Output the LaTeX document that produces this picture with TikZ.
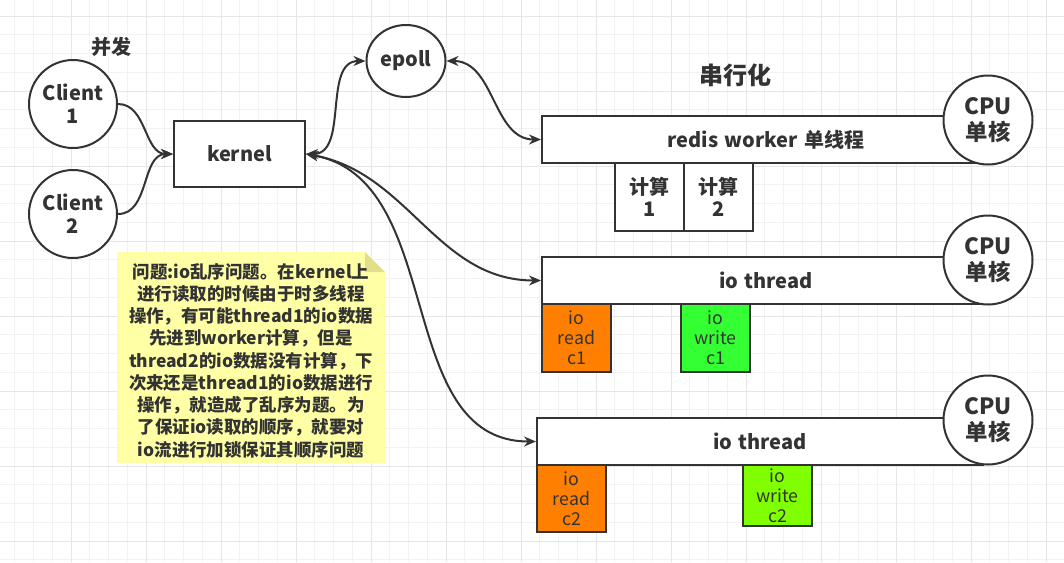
\documentclass[tikz,border=0pt]{standalone}
\usepackage{fontspec}
\setmainfont[WordSpace=1.4]{Noto Sans CJK SC}
\usetikzlibrary{shapes.geometric,arrows.meta}

\definecolor{linegray}{HTML}{333333}
\definecolor{gridminor}{HTML}{F2F2F2}
\definecolor{gridmajor}{HTML}{E6E6E6}
\definecolor{notefill}{HTML}{FFFFA6}
\definecolor{notefold}{HTML}{E0E08A}
\definecolor{readorange}{HTML}{FF8000}
\definecolor{writegreen}{HTML}{33FF33}
\definecolor{writelime}{HTML}{80FF00}

\tikzset{
  shapeline/.style={draw=linegray, line width=1.5pt, text=linegray},
  boldlabel/.style={font=\bfseries\fontsize{15}{17}\selectfont},
  client/.style={circle, shapeline, boldlabel, fill=white, minimum size=66pt, inner sep=0pt, align=center},
  procbox/.style={rectangle, shapeline, boldlabel, fill=white, inner sep=0pt, align=center},
  cpu/.style={circle, shapeline, fill=white, minimum size=66.75pt, inner sep=0pt, align=center,
    font=\bfseries\fontsize{16.8}{19.5}\selectfont},
  iobox/.style={rectangle, shapeline, minimum width=51.75pt, inner sep=0pt, align=center,
    font=\fontsize{13.3}{15}\selectfont},
  headline/.style={text=linegray, inner sep=0pt},
  link/.style={draw=linegray, line width=1.5pt, -{Stealth[length=9pt,width=7.5pt]}},
  bilink/.style={link, {Stealth[length=9pt,width=7.5pt]}-{Stealth[length=9pt,width=7.5pt]}}
}

\begin{document}
\begin{tikzpicture}[x=0.75pt,y=-0.75pt]
\useasboundingbox (0,0) rectangle (1064,562);
\fill[white] (0,0) rectangle (1064,562);
            % Grid
\foreach \gx in {0,...,56} \draw[gridminor, line width=0.75pt] ({14.75+18.75*\gx},0) -- ++(0,562);
\foreach \gy in {0,...,29} \draw[gridminor, line width=0.75pt] (0,{16+18.75*\gy}) -- ++(1064,0);
\foreach \gx in {0,...,13} \draw[gridmajor, line width=0.75pt] ({71+75*\gx},0) -- ++(0,562);
\foreach \gy in {0,...,7} \draw[gridmajor, line width=0.75pt] (0,{16+75*\gy}) -- ++(1064,0);
            % Note
\fill[notefill] (117,252) -- (365,252) -- (385,272) -- (385,463) -- (117,463) -- cycle;
\fill[notefold] (365,252) -- (365,272) -- (385,272) -- cycle;
\node[headline, align=center, font=\bfseries\fontsize{13.1}{16.7}\selectfont] (note) at (251,360.5)
  {问题:io乱序问题。在kernel上\\进行读取的时候由于时多线程\\操作，有可能thread1的io数据\\先进到worker计算，但是\\thread2的io数据没有计算，下\\次来还是thread1的io数据进行\\操作，就造成了乱序为题。为\\了保证io读取的顺序，就要对\\io流进行加锁保证其顺序问题};
            % Titles
\node[headline, boldlabel] (bingfa) at (111,47) {并发};
\node[headline, font=\bfseries\fontsize{18}{20}\selectfont] (chuanxing) at (735,75) {串行化};
            % Clients and kernel
\node[client] (c1) at (73,104) {Client\\1};
\node[client] (c2) at (73,214) {Client\\2};
\node[procbox, minimum width=98.25pt, minimum height=49.5pt] (kernel) at (239.5,154) {kernel};
\node[ellipse, shapeline, boldlabel, fill=white, minimum width=59.25pt, minimum height=54pt, inner sep=0pt] (epoll) at (406,61) {epoll};
            % Worker
\node[procbox, minimum width=336pt, minimum height=35.25pt] (worker) at (766,139.5) {redis worker 单线程};
\node[cpu] (cpu1) at (988,120) {CPU\\单核};
\node[procbox, minimum width=51.75pt, minimum height=51pt] (calc1) at (649.5,197) {计算\\1};
\node[procbox, minimum width=51.75pt, minimum height=51pt] (calc2) at (718.5,197) {计算\\2};
            % IO threads
\node[procbox, minimum width=336pt, minimum height=35.25pt] (io1) at (766,280.5) {io thread};
\node[cpu] (cpu2) at (988,260) {CPU\\单核};
\node[iobox, fill=readorange, minimum height=51pt] (read1) at (576.5,338) {io\\read\\c1};
\node[iobox, fill=writegreen, minimum height=51pt] (write1) at (715.5,338) {io\\write\\c1};
\node[procbox, minimum width=334.5pt, minimum height=35.25pt] (io2) at (760,441.5) {io thread};
\node[cpu] (cpu3) at (988,420) {CPU\\单核};
\node[iobox, fill=readorange, minimum height=50.25pt] (read2) at (571.5,498.5) {io\\read\\c2};
\node[iobox, fill=writelime, minimum height=45.75pt] (write2) at (777.5,495.5) {io\\write\\c2};
            % Connections
\draw[link] (c1.east) to[out=0,in=180] (kernel.west);
\draw[link] (c2.east) to[out=0,in=180] (kernel.west);
\draw[bilink] (kernel.east) to[out=0,in=180] (epoll.west);
\draw[bilink] (epoll.east) to[out=0,in=180] (worker.west);
\draw[bilink] (kernel.east) to[out=-10,in=180] (io1.west);
\draw[bilink] (kernel.east) to[out=-10,in=180] (io2.west);
\end{tikzpicture}
\end{document}
